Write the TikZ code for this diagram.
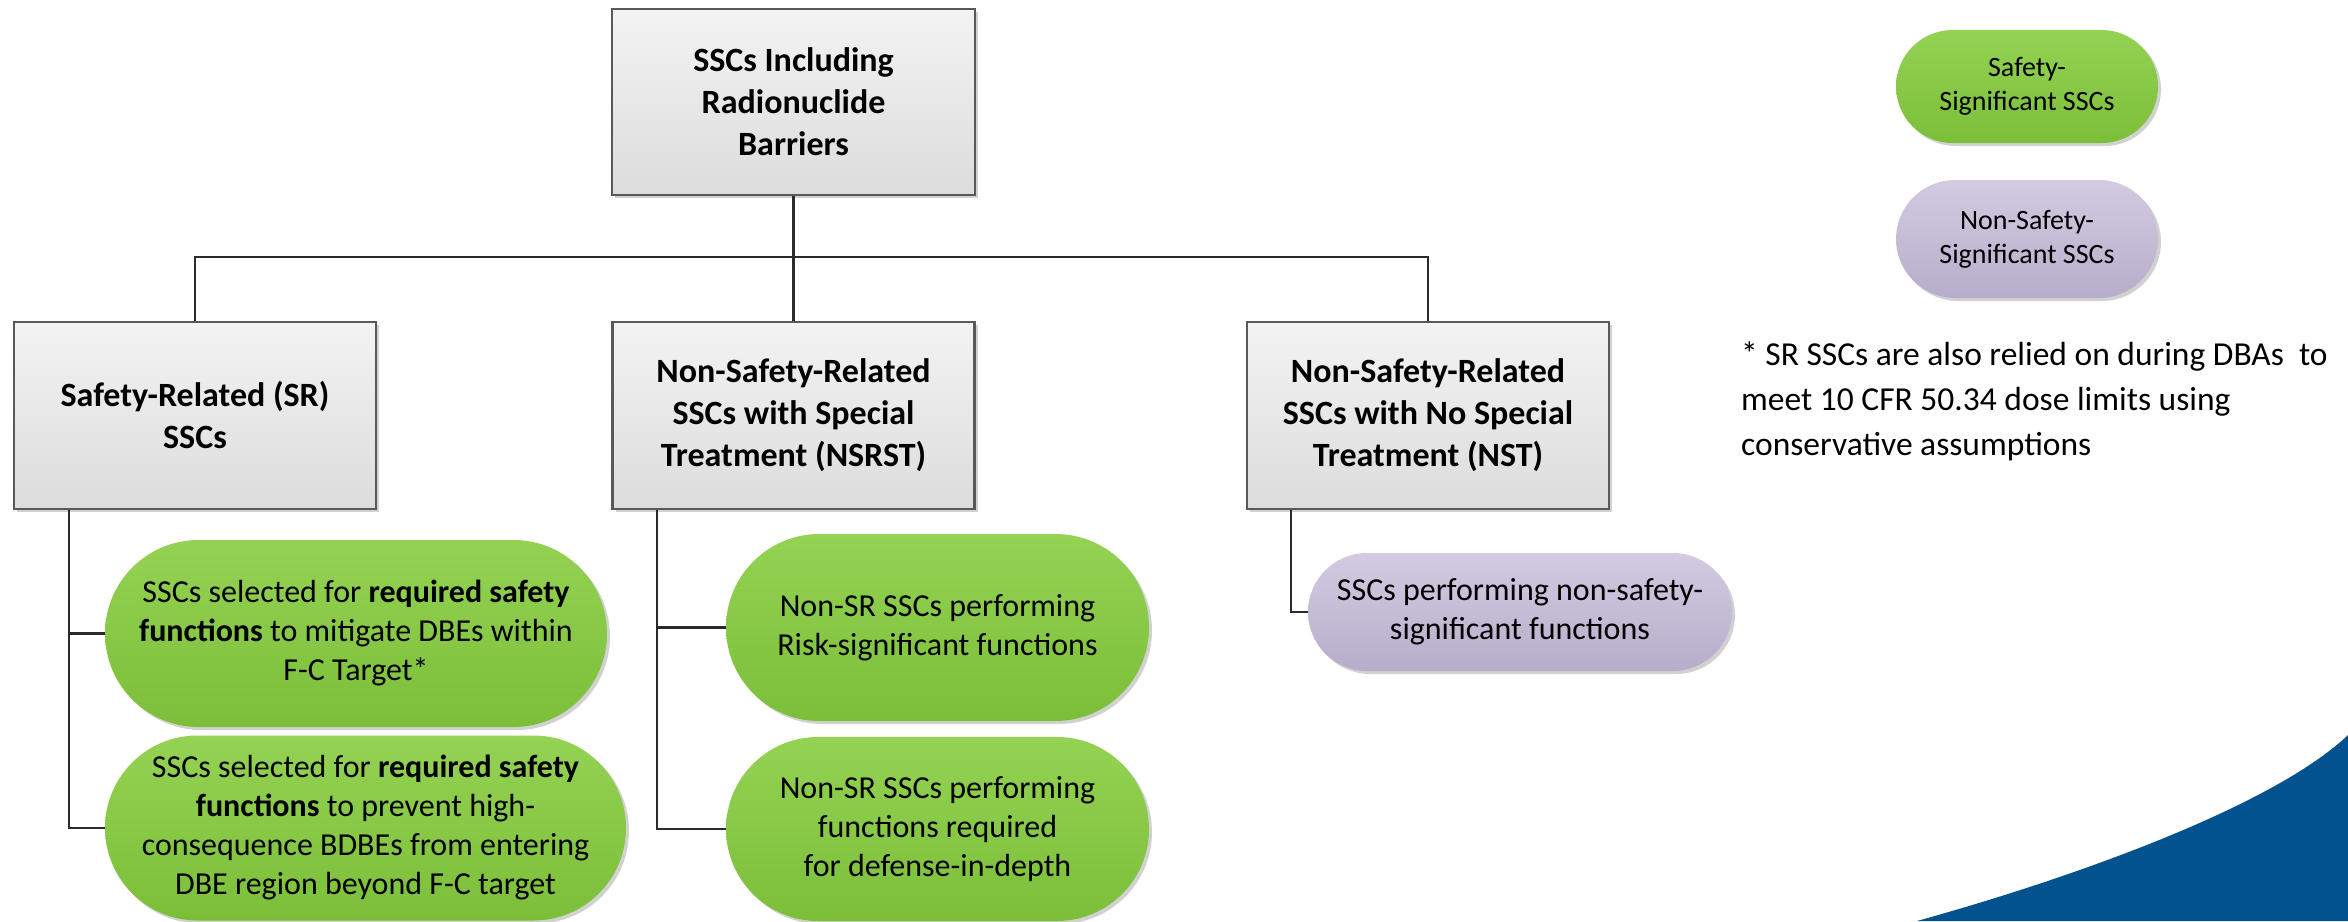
\documentclass[tikz,border=0pt]{standalone}
\usepackage{fontspec}
\setmainfont{Carlito}
\usetikzlibrary{shapes.misc,shadows}

\definecolor{boxtop}{HTML}{F3F3F3}
\definecolor{boxbot}{HTML}{DCDCDC}
\definecolor{boxline}{HTML}{595959}
\definecolor{greentop}{HTML}{94D253}
\definecolor{greenbot}{HTML}{7BBF39}
\definecolor{purptop}{HTML}{D3CBE1}
\definecolor{purpbot}{HTML}{B7ADCB}
\definecolor{wirecol}{HTML}{2B2B2B}
\definecolor{swooshblue}{HTML}{01528F}

\tikzset{
  softshadow/.style={drop shadow={shadow xshift=3pt, shadow yshift=-3pt, opacity=0.18, fill=black}},
  catbox/.style={rectangle, draw=boxline, line width=2.5pt,
    top color=boxtop, bottom color=boxbot,
    minimum width=362pt, minimum height=187pt, inner sep=0pt, align=center,
    font=\fontsize{34}{42}\selectfont\bfseries, softshadow},
  pill/.style={rounded rectangle, draw=none, inner sep=0pt, align=center,
    font=\fontsize{32}{39}\selectfont, softshadow},
  greenpill/.style={pill, top color=greentop, bottom color=greenbot},
  purplepill/.style={pill, top color=purptop, bottom color=purpbot},
  wire/.style={draw=wirecol, line width=2.2pt},
}

\begin{document}
\begin{tikzpicture}[x=1pt, y=-1pt]
\useasboundingbox (0,0) rectangle (2348,921);

% corner swoosh
\fill[swooshblue] (1917,921) .. controls (2100,870) and (2280,800) .. (2348,735)
  -- (2348,921) -- cycle;

% category boxes
\node[catbox, minimum width=363pt, minimum height=186pt] (top) at (793.5,102)
  {SSCs Including\\Radionuclide\\Barriers};
\node[catbox] (sr) at (195,415.5) {Safety-Related (SR)\\SSCs};
\node[catbox] (mid) at (793.5,415.5) {Non-Safety-Related\\SSCs with Special\\Treatment (NSRST)};
\node[catbox] (nst) at (1428,415.5) {Non-Safety-Related\\SSCs with No Special\\Treatment (NST)};

% function pills
\node[greenpill, minimum width=502pt, minimum height=187pt] (sr1) at (356,633.5)
  {SSCs selected for \textbf{required safety}\\\textbf{functions} to mitigate DBEs within\\F-C Target*};
\node[greenpill, minimum width=521pt, minimum height=185pt] (sr2) at (365.5,828)
  {SSCs selected for \textbf{required safety}\\\textbf{functions} to prevent high-\\consequence BDBEs from entering\\DBE region beyond F-C target};
\node[greenpill, minimum width=423pt, minimum height=187pt] (m1) at (937.5,627.5)
  {Non-SR SSCs performing\\Risk-significant functions};
\node[greenpill, minimum width=423pt, minimum height=184pt] (m2) at (937.5,829)
  {Non-SR SSCs performing\\functions required\\for defense-in-depth};
\node[purplepill, minimum width=424pt, minimum height=118pt] (n1) at (1520,612)
  {SSCs performing non-safety-\\significant functions};

% legend
\node[greenpill, minimum width=262pt, minimum height=113pt, font=\fontsize{28}{34}\selectfont] (lg) at (2027,86.5)
  {Safety-\\Significant SSCs};
\node[purplepill, minimum width=262pt, minimum height=118pt, font=\fontsize{28}{34}\selectfont] (lp) at (2027,239)
  {Non-Safety-\\Significant SSCs};

% footnote
\node[anchor=north west, inner sep=0pt, align=left, font=\fontsize{33.5}{45}\selectfont] (note) at (1741,342)
  {* SR SSCs are also relied on during DBAs\ \ to\\meet 10 CFR 50.34 dose limits using\\conservative assumptions};

% tree connectors
\coordinate (bus) at (0,257);
\draw[wire] (top.south) -- (top.south |- bus);
\draw[wire] (sr.north) -- (sr.north |- bus) -| (nst.north);
\draw[wire] (mid.north) -- (mid.north |- bus);

\coordinate (srspine) at (69,0);
\draw[wire] (srspine |- sr.south) |- (sr1.west);
\draw[wire] (srspine |- sr.south) |- (sr2.west);

\coordinate (midspine) at (657,0);
\draw[wire] (midspine |- mid.south) |- (m1.west);
\draw[wire] (midspine |- mid.south) |- (m2.west);

\coordinate (nstspine) at (1291,0);
\draw[wire] (nstspine |- nst.south) |- (n1.west);
\end{tikzpicture}
\end{document}
